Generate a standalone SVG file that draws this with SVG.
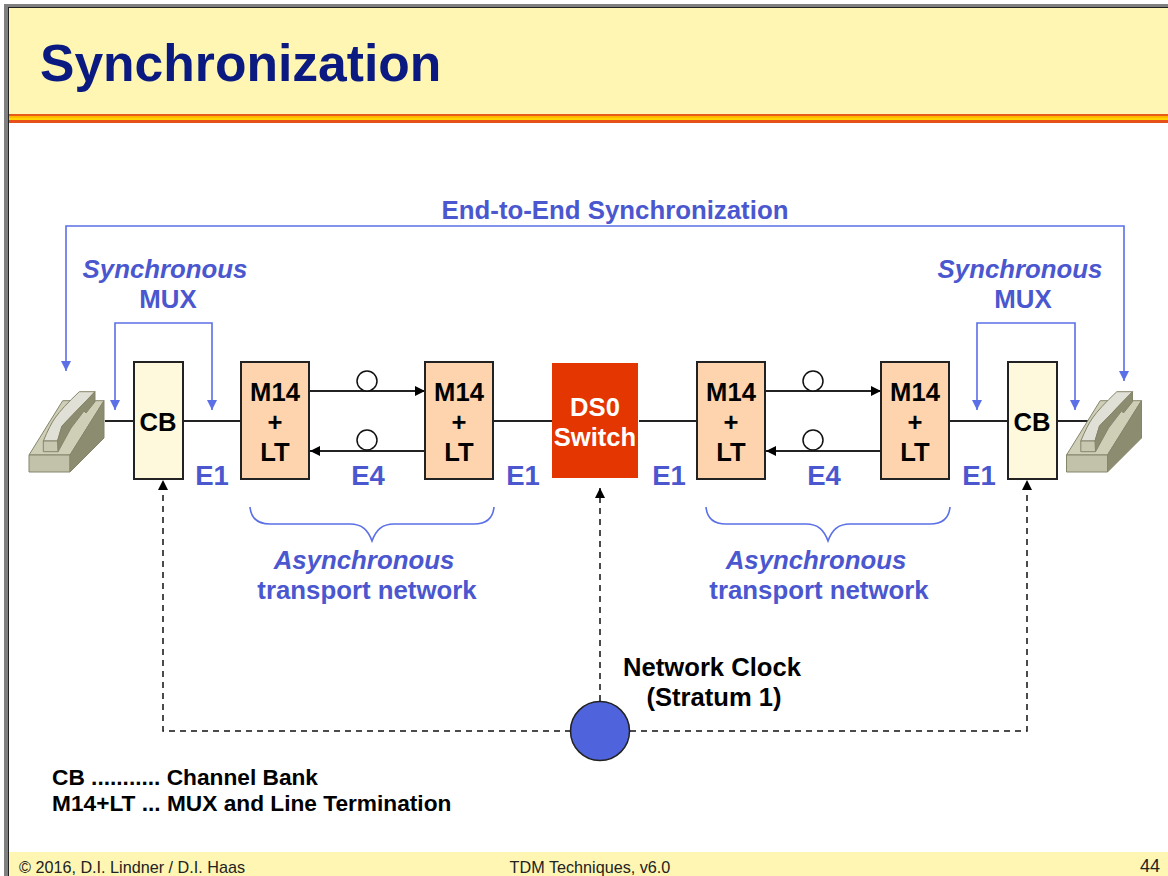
<svg xmlns="http://www.w3.org/2000/svg" width="1168" height="876" viewBox="0 0 1168 876">
<style>
text{font-family:"Liberation Sans",Arial,sans-serif;font-weight:bold;text-anchor:middle}
.k{font-size:25.6px;fill:#000}
.w{font-size:25.6px;fill:#fff}
.b{font-size:27.5px;fill:#4a57cf}
.i{font-size:25.8px;fill:#4a57cf}
.it{font-style:italic}
.lg{font-size:22.7px;fill:#000;text-anchor:start}
.ft{font-size:16.2px;font-weight:normal;fill:#222}
.line{fill:none;stroke:#222;stroke-width:2}
.blue{fill:none;stroke:#5b6fe6;stroke-width:1.6}
.dash{fill:none;stroke:#111;stroke-width:1.5;stroke-dasharray:6 5}
.lt{fill:#fdd4ae;stroke:#222;stroke-width:2}
.cb{fill:#fef9dd;stroke:#222;stroke-width:2}
.ring{fill:#fff;stroke:#111;stroke-width:1.5}
</style>
<defs>
<marker id="ab" markerUnits="userSpaceOnUse" markerWidth="11" markerHeight="10" refX="10" refY="5" orient="auto-start-reverse"><path d="M0 0L10 5L0 10z" fill="#5b6fe6"/></marker>
<marker id="ak" markerUnits="userSpaceOnUse" markerWidth="11" markerHeight="10" refX="10" refY="5" orient="auto"><path d="M0 0L10 5L0 10z" fill="#000"/></marker>
<g id="phone" stroke="#85856c" stroke-width="1" stroke-linejoin="round">
<path d="M29 455L62.7 400.7H104L70 455z" fill="#cfcfb8"/>
<path d="M29 455H70V472H29z" fill="#c2c2aa"/>
<path d="M70 455L104 400.7V438L70 472z" fill="#8c8c70"/>
<path d="M43.3 441Q50 425 55 418Q62 408 79.3 391.7H95L62 426L57.5 441z" fill="#e0e0d6"/>
<path d="M57.5 441L62 426L95 391.7V401.7L86 413L84 411L71 428L58 451.7z" fill="#8c8c70"/>
<path d="M43.3 441H57.5L58 451.7H43.3z" fill="#c8c8b0"/>
</g>
</defs>
<rect width="1168" height="876" fill="#fff"/>
<rect x="4" y="4" width="1164" height="872" fill="#808080"/>
<rect x="8" y="7" width="1160" height="869" fill="#222"/>
<rect x="9" y="8" width="1159" height="868" fill="#fff"/>
<rect x="9" y="8" width="1159" height="106" fill="#fef6b2"/>
<rect x="9" y="114" width="1159" height="2" fill="#e85a1a"/>
<rect x="9" y="116" width="1159" height="2" fill="#ffb800"/>
<rect x="9" y="118" width="1159" height="2" fill="#ffd400"/>
<rect x="9" y="120" width="1159" height="3" fill="#e8501a"/>
<text x="40" y="81" fill="#0a1a80" style="text-anchor:start;font-size:51.6px">Synchronization</text>
<g id="connectors">
<path class="line" d="M105 421H134M184 421H241M494 421H552M639 421H697M950 421H1008M1057 421H1088"/>
<path class="line" marker-end="url(#ak)" d="M310 391H425"/>
<path class="line" marker-end="url(#ak)" d="M425 451H310"/>
<path class="line" marker-end="url(#ak)" d="M766 391H881"/>
<path class="line" marker-end="url(#ak)" d="M881 451H766"/>
<path class="blue" marker-start="url(#ab)" marker-end="url(#ab)" d="M66 371V226H1124V381"/>
<path class="blue" marker-start="url(#ab)" marker-end="url(#ab)" d="M115 410V323H212V410"/>
<path class="blue" marker-start="url(#ab)" marker-end="url(#ab)" d="M977 410V323H1075V410"/>
<path class="blue" d="M250 507C251 518 258 524 270 524H350C362 524 368 530 372 541C376 530 382 524 394 524H474C486 524 493 518 494 507"/>
<path class="blue" d="M706 507C707 518 714 524 726 524H806C818 524 824 530 828 541C832 530 838 524 850 524H930C942 524 949 518 950 507"/>
<path class="dash" marker-end="url(#ak)" d="M571 731H163V480"/>
<path class="dash" marker-end="url(#ak)" d="M630 731H1027V480"/>
<path class="dash" marker-end="url(#ak)" d="M600 701V488"/>
<circle class="ring" cx="367" cy="381" r="10"/>
<circle class="ring" cx="367" cy="440" r="10"/>
<circle class="ring" cx="813" cy="381" r="10"/>
<circle class="ring" cx="813" cy="440" r="10"/>
</g>
<g id="phone-left"><use href="#phone"/></g>
<g id="phone-right"><use href="#phone" x="1037.5"/></g>
<g id="cb-left"><rect class="cb" x="134" y="362" width="49" height="117"/><text class="k" x="158" y="431">CB</text></g>
<g id="cb-right"><rect class="cb" x="1008" y="362" width="49" height="117"/><text class="k" x="1032" y="431">CB</text></g>
<g id="mux1"><rect class="lt" x="241" y="362" width="68" height="117"/><text class="k" x="275" y="401">M14</text><text class="k" x="275" y="431">+</text><text class="k" x="275" y="461">LT</text></g>
<g id="mux2"><rect class="lt" x="425" y="362" width="68" height="117"/><text class="k" x="459" y="401">M14</text><text class="k" x="459" y="431">+</text><text class="k" x="459" y="461">LT</text></g>
<g id="mux3"><rect class="lt" x="697" y="362" width="68" height="117"/><text class="k" x="731" y="401">M14</text><text class="k" x="731" y="431">+</text><text class="k" x="731" y="461">LT</text></g>
<g id="mux4"><rect class="lt" x="881" y="362" width="68" height="117"/><text class="k" x="915" y="401">M14</text><text class="k" x="915" y="431">+</text><text class="k" x="915" y="461">LT</text></g>
<g id="switch"><rect x="552" y="363" width="86" height="115" fill="#e33600"/><text class="w" x="595" y="416">DS0</text><text class="w" x="595" y="446">Switch</text></g>
<g id="clock"><circle cx="600" cy="731" r="29.5" fill="#4f64dc" stroke="#222" stroke-width="1.5"/></g>
<g id="labels">
<text class="i" x="615" y="219">End-to-End Synchronization</text>
<text class="i it" x="165" y="278">Synchronous</text><text class="i" x="168" y="308">MUX</text>
<text class="i it" x="1020" y="278">Synchronous</text><text class="i" x="1023" y="308">MUX</text>
<text class="b" x="212" y="485">E1</text><text class="b" x="368" y="485">E4</text><text class="b" x="523" y="485">E1</text>
<text class="b" x="669" y="485">E1</text><text class="b" x="824" y="485">E4</text><text class="b" x="979" y="485">E1</text>
<text class="i it" x="364" y="569">Asynchronous</text><text class="i" x="367" y="599">transport network</text>
<text class="i it" x="816" y="569">Asynchronous</text><text class="i" x="819" y="599">transport network</text>
<text class="k" x="712" y="676">Network Clock</text><text class="k" x="714" y="706">(Stratum 1)</text>
<text class="lg" x="52" y="785">CB ........... Channel Bank</text>
<text class="lg" x="52" y="811">M14+LT ... MUX and Line Termination</text>
</g>
<g id="footer">
<rect x="9" y="852" width="1159" height="24" fill="#fef6b2"/>
<text class="ft" x="19" y="873" style="text-anchor:start">© 2016, D.I. Lindner / D.I. Haas</text>
<text class="ft" x="590" y="873">TDM Techniques, v6.0</text>
<text class="ft" x="1150" y="872" style="font-size:18px">44</text>
</g>
</svg>
